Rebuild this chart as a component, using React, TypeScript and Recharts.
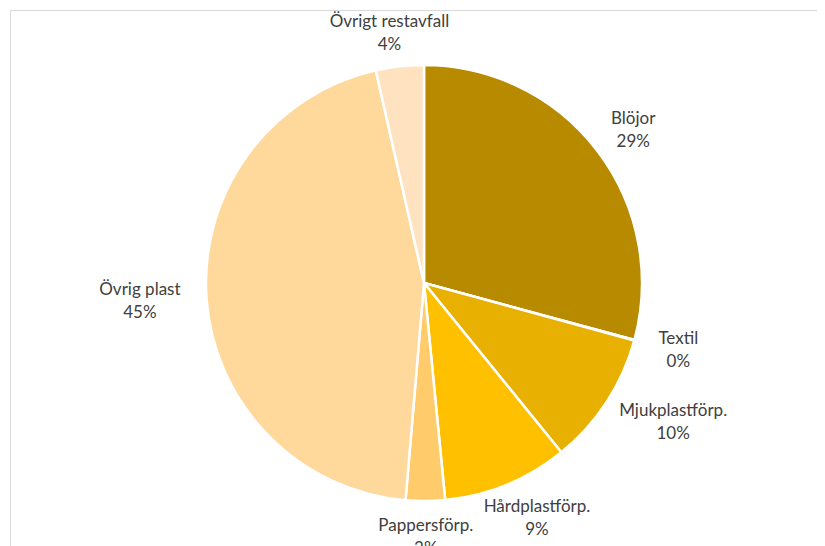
import { PieChart, Pie, Cell } from "recharts";

// ── Data ──────────────────────────────────────────────────────────────────────

const categories = [
  "Blöjor",
  "Textil",
  "Mjukplastförp.",
  "Hårdplastförp.",
  "Pappersförp.",
  "Övrig plast",
  "Övrigt restavfall",
];
const shares = [29.2, 0.05, 9.9, 9.3, 2.9, 45.1, 3.55];
const colors = ["#B88A00", "#D49E00", "#E8B000", "#FFC000", "#FFCB6B", "#FFD89C", "#FFE2C0"];

const data = categories.map((name, i) => ({ name, value: shares[i] }));

const RADIAN = Math.PI / 180;

// Two-line label (name + percent), pushed outside the slice along its mid-angle
function renderLabel(props: any) {
  const { cx, cy, midAngle, outerRadius, percent, name } = props;
  const dx = Math.cos(-midAngle * RADIAN);
  const dy = Math.sin(-midAngle * RADIAN);
  const gap = 20;
  const w = name.length * 8.5;
  const h = 30;
  const x = cx + (outerRadius + gap) * dx + (dx * w) / 2;
  const y = cy + (outerRadius + gap) * dy + (dy * h) / 2;
  return (
    <text
      x={x}
      y={y}
      textAnchor="middle"
      fill="#404040"
      fontSize={17}
      fontFamily="Lato, 'Open Sans', sans-serif"
    >
      <tspan x={x} dy={-5}>{name}</tspan>
      <tspan x={x} dy={23}>{`${Math.round(percent * 100)}%`}</tspan>
    </text>
  );
}

export default function App() {
  return (
    <div style={{ position: "relative", width: 817, height: 538, overflow: "hidden", background: "#fff" }}>
      <div
        style={{
          position: "absolute",
          left: 2,
          top: 2,
          width: 1000,
          height: 1000,
          border: "1px solid #d9d9d9",
        }}
      />
      <PieChart
        width={817}
        height={538}
        margin={{ top: 0, right: 0, bottom: 0, left: 0 }}
        style={{ position: "absolute", left: 0, top: 0 }}
      >
        <Pie
          data={data}
          dataKey="value"
          nameKey="name"
          cx={416}
          cy={275}
          outerRadius={218}
          startAngle={90}
          endAngle={-270}
          stroke="#ffffff"
          strokeWidth={2.5}
          labelLine={false}
          label={renderLabel}
          isAnimationActive={false}
        >
          {data.map((d, i) => (
            <Cell key={d.name} fill={colors[i]} />
          ))}
        </Pie>
      </PieChart>
    </div>
  );
}
